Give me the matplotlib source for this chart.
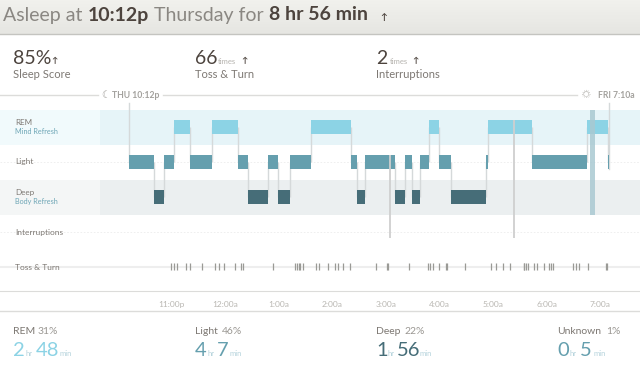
import numpy as np
import matplotlib
matplotlib.use("Agg")
import matplotlib.pyplot as plt

plt.rcParams['font.family'] = ['Lato', 'DejaVu Sans']

# hours relative to midnight (negative = before midnight)
stage_edges = [-1.80, -1.32, -1.13, -0.96, -0.65, -0.24, 0.24, 0.42, 0.80, 0.99,
               1.21, 1.61, 2.36, 2.46, 2.62, 3.18, 3.35, 3.48, 3.64, 3.81,
               3.99, 4.22, 4.87, 4.91, 5.73, 6.76, 7.15, 7.16]
stages = ["L", "D", "L", "R", "L", "R", "L", "D", "L", "D", "L", "R", "L", "D", "L",
          "D", "L", "D", "L", "R", "L", "D", "L", "R", "L", "R", "L"]
interruptions = [3.07, 5.39]
unknown_start = 6.81
unknown_end = 6.90
toss_turn = [-1.00, -0.96, -0.89, -0.72, -0.66, -0.42, -0.19, -0.11, -0.02, 0.19,
             0.29, 0.34, 0.89, 1.30, 1.34, 1.38, 1.40, 1.46, 1.69, 1.75,
             1.93, 2.06, 2.10, 2.21, 2.33, 2.81, 3.02, 3.04, 3.44, 3.79,
             3.82, 3.88, 4.00, 4.13, 4.15, 4.47, 4.97, 5.06, 5.18, 5.31,
             5.57, 5.58, 5.61, 5.65, 5.77, 5.83, 5.96, 6.04, 6.09, 6.12,
             6.50, 6.54, 6.60, 6.77, 7.10, 7.13]
hour_ticks = [-1, 0, 1, 2, 3, 4, 5, 6, 7]
hour_labels = ["11:00p", "12:00a", "1:00a", "2:00a", "3:00a", "4:00a", "5:00a", "6:00a", "7:00a"]

rows = {"R": 0, "L": 1, "D": 2}
colors = {"R": "#8cd3e5", "L": "#659fae", "D": "#466d78"}

W, H = 640, 369
DARK = "#4d443e"
MID = "#7d7873"
LIGHT = "#b4b2ad"


def X(px):
    return px / W


def Y(py):
    return 1 - py / H


fig = plt.figure(figsize=(6.4, 3.69), dpi=100, facecolor="white")


def txt(px, py, s, size, color=MID, weight="normal", ha="left"):
    fig.text(X(px), Y(py), s, fontsize=size, color=color, weight=weight, ha=ha, va="center")


def dessinerEntete():
    head = fig.add_axes([0, Y(34), 1, 34 / H])
    head.imshow(np.linspace(0, 1, 34).reshape(-1, 1), aspect="auto", cmap=matplotlib.colors.LinearSegmentedColormap.from_list("h", ["#f1f1ed", "#e6e6e2"]))
    head.axis("off")
    fig.add_artist(plt.Line2D([0, 1], [Y(34), Y(34)], color="#c4c4c0", lw=1))
    txt(3, 15, "Asleep at", 14, "#8a8782")
    txt(88, 15, "10:12p", 14, DARK, "bold")
    txt(154, 15, "Thursday for", 14, "#8a8782")
    txt(269, 15, "8 hr 56 min", 14, DARK, "bold")
    txt(380, 17, "↑", 6.5, DARK, "bold")

    # scores
    for x, big, arrow_x, lab in [(13, "85%", 51, "Sleep Score"),
                                 (195, "66", 241, "Toss & Turn"),
                                 (376, "2", 412, "Interruptions")]:
        txt(x, 58, big, 14, DARK)
        txt(arrow_x, 60, "↑", 6, DARK, "bold")
        txt(x, 74, lab, 8, MID)
    txt(218, 61, "times", 5.5, LIGHT)
    txt(390, 61, "times", 5.5, LIGHT)

    # ligne du haut
    for a, b in [(0, 98), (163, 577)]:
        fig.add_artist(plt.Line2D([X(a), X(b)], [Y(95), Y(95)], color="#dcdcda", lw=1))
    txt(112, 95, "THU 10:12p", 6.2, "#a3a19d", "bold")
    txt(598, 95, "FRI 7:10a", 6.2, "#a3a19d", "bold")
    txt(101, 95, "☾", 7, "#a3a19d")
    txt(582, 95, "☼", 8, "#b8b6b2")


def dessinerGraphe():
    ax = fig.add_axes([0, Y(291), 1, 191 / H])
    ax.set_xlim((0 - 225) / 53.6, (640 - 225) / 53.6)
    ax.set_ylim((291 - 127.5) / 35, (100 - 127.5) / 35)
    for s in ["top", "left", "right"]:
        ax.spines[s].set_visible(False)
    ax.spines["bottom"].set_color("#dcdcda")
    ax.set_facecolor("none")
    ax.set_yticks([])
    ax.set_xticks(hour_ticks, hour_labels)
    ax.tick_params(axis="x", length=0, pad=7, labelsize=6, labelcolor="#b9b7b2")

    xmin, xmax = ax.get_xlim()
    x100 = (100 - 225) / 53.6
    # fonds
    ax.fill_between([xmin, x100], -0.5, 0.5, color="#f1fafc", lw=0)
    ax.fill_between([x100, xmax], -0.5, 0.5, color="#e6f4f8", lw=0)
    ax.fill_between([xmin, x100], 1.5, 2.5, color="#f4f6f6", lw=0)
    ax.fill_between([x100, xmax], 1.5, 2.5, color="#ebeff0", lw=0)

    # pointillés et ligne toss & turn
    for r in [1, 3]:
        ax.axhline(r, color="#ececec", lw=0.6, ls=(0, (2, 2)), zorder=1)
    ax.axhline(3.98, color="#eeeeee", lw=1.5, zorder=1)

    # liaisons entre stades
    for e, a, b in zip(stage_edges[1:-1], stages[:-1], stages[1:]):
        ax.plot([e, e], [rows[a], rows[b]], color="#d5d9da", lw=1, zorder=2, solid_capstyle="butt")
    ax.plot([stage_edges[0]] * 2, [-0.7, 1], color="#d5d9da", lw=1, zorder=2)
    ax.plot([stage_edges[-1]] * 2, [-0.7, 1.2], color="#d5d9da", lw=1, zorder=2)

    # barres
    for i, st in enumerate(stages):
        ax.bar(stage_edges[i], 0.4, width=stage_edges[i + 1] - stage_edges[i], bottom=rows[st] - 0.2,
               align="edge", color=colors[st], edgecolor="none", zorder=3)

    # inconnu
    ax.fill_between([unknown_start, unknown_end], -0.5, 2.5, color="#a9c9d2", alpha=0.85, lw=0, zorder=4)

    # interruptions
    ax.plot([interruptions[0]] * 2, [0.8, 3.15], color="#cfcfcf", lw=1.3, zorder=4, solid_capstyle="butt")
    ax.plot([interruptions[1]] * 2, [-0.2, 3.15], color="#cfcfcf", lw=1.3, zorder=4, solid_capstyle="butt")

    # toss & turn
    ax.vlines(toss_turn, 3.88, 4.08, color="#9a9a96", lw=0.9, zorder=4)

    # étiquettes des rangées
    txt(15, 122.5, "REM", 5.8, MID)
    txt(15, 131.5, "Mind Refresh", 5.2, "#6ea6b6")
    txt(15, 162, "Light", 6, MID)
    txt(15, 192.5, "Deep", 5.8, MID)
    txt(15, 201.5, "Body Refresh", 5.2, "#6ea6b6")
    txt(15, 232, "Interruptions", 6, MID)
    txt(15, 267, "Toss & Turn", 6, MID)


def dessinerBas():
    fig.add_artist(plt.Line2D([0, 1], [Y(311), Y(311)], color="#dcdcda", lw=1))
    blocs = [(13, "REM", 38, "31%", "2", "48", "#8cd3e5", 26, 36, 60),
             (195, "Light", 222, "46%", "4", "7", "#659fae", 207, 217, 229),
             (376, "Deep", 404, "22%", "1", "56", "#466d78", 387, 397, 420),
             (557, "Unknown", 606, "1%", "0", "5", "#659fae", 570, 580, 593)]
    for x, nom, xpct, pct, h, m, col, xh, xm, xmn in blocs:
        txt(x, 332, nom, 7.5, MID)
        txt(xpct, 332, pct, 7.5, "#9a9792")
        txt(x, 350, h, 14.5, col)
        txt(xh, 354, "hr", 5.5, "#b5d3dc")
        txt(xm, 350, m, 14.5, col)
        txt(xmn, 354, "min", 5.5, "#b5d3dc")


def main():
    dessinerEntete()
    dessinerGraphe()
    dessinerBas()
    fig.savefig("out.png", dpi=100)


if __name__ == "__main__":
    main()
